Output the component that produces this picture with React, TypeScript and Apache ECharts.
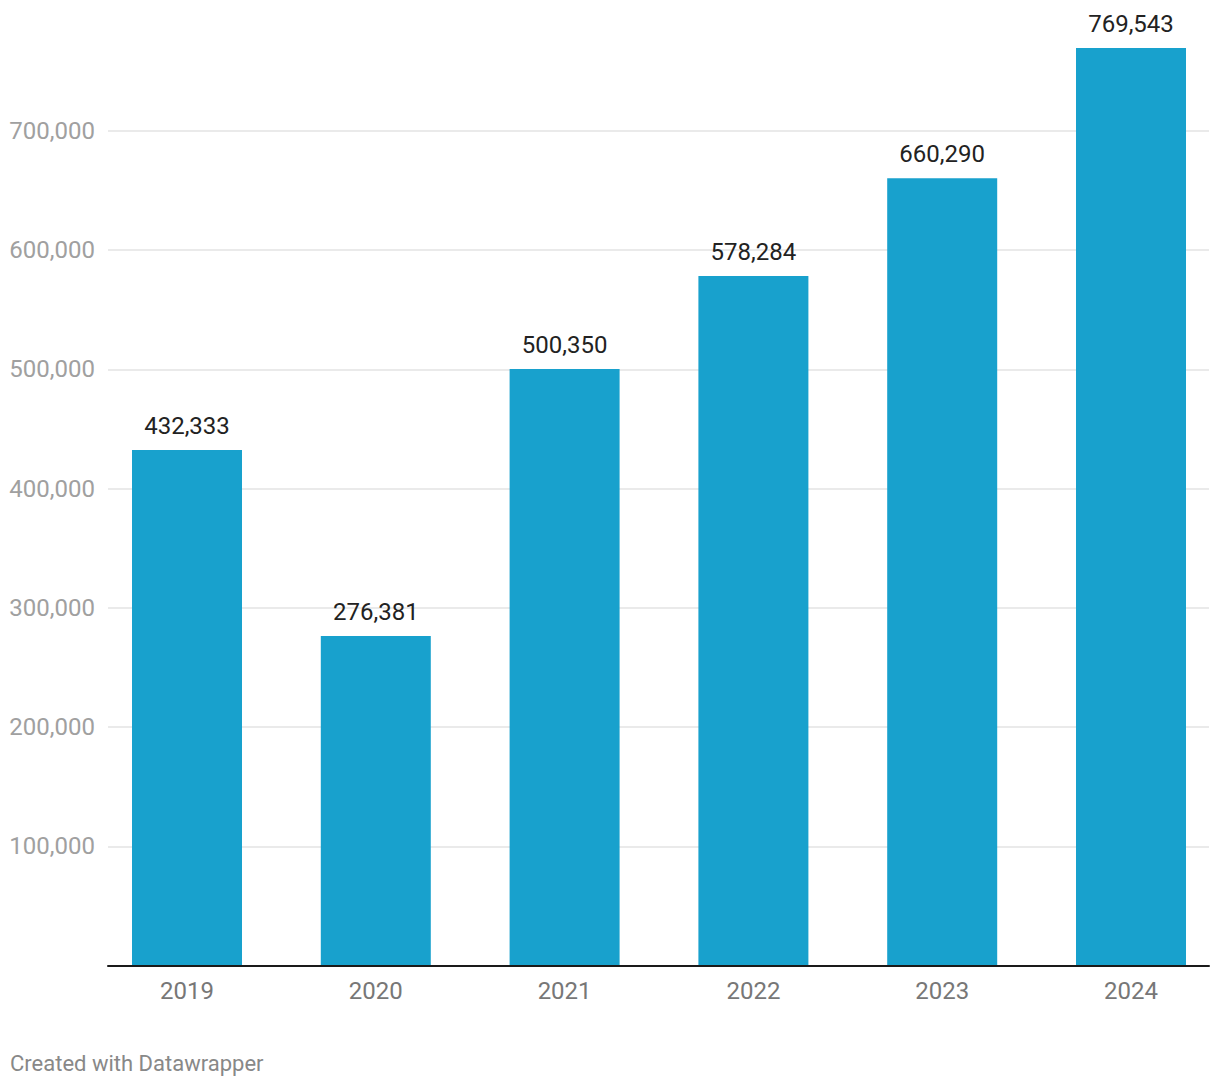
import React, { useEffect, useRef } from "react";
import * as echarts from "echarts";

const years = ["2019", "2020", "2021", "2022", "2023", "2024"];
const values = [432333, 276381, 500350, 578284, 660290, 769543];
const yMax = 800000;
const yStep = 100000;
const footer = "Created with Datawrapper";

const fmt = (v: number) => v.toLocaleString("en-US");
const FONT = "Roboto";

export default function App() {
  const ref = useRef<HTMLDivElement>(null);
  useEffect(() => {
    if (!ref.current) return;
    const chart = echarts.init(ref.current, undefined, { renderer: "svg" });
    const gridColors = ["transparent", "#e3e3e3", "#e3e3e3", "#e3e3e3", "#e3e3e3", "#e3e3e3", "#e3e3e3", "#e3e3e3", "transparent"];
    chart.setOption({
      animation: false,
      backgroundColor: "#ffffff",
      textStyle: { fontFamily: FONT },
      grid: [
        { left: 108, right: 11, top: 11.8, bottom: 122.5 },
        { left: 187, right: 89, top: 11.8, bottom: 122.5 },
      ],
      xAxis: [
        {
          type: "category",
          gridIndex: 0,
          data: years,
          z: 5,
          axisLine: { show: true, lineStyle: { color: "#1a1a1a", width: 2 } },
          axisTick: { show: false },
          axisLabel: { show: false },
          splitLine: { show: false },
        },
        {
          type: "category",
          gridIndex: 1,
          data: years,
          boundaryGap: false,
          axisLine: { show: false },
          axisTick: { show: false },
          axisLabel: {
            show: true,
            color: "#777777",
            fontSize: 24,
            fontFamily: FONT,
            margin: 13,
          },
          splitLine: { show: false },
        },
      ],
      yAxis: [
        {
          type: "value",
          gridIndex: 0,
          min: 0,
          max: yMax,
          interval: yStep,
          axisLine: { show: false },
          axisTick: { show: false },
          axisLabel: {
            show: true,
            showMinLabel: false,
            showMaxLabel: false,
            color: "#a0a0a0",
            fontSize: 24,
            fontFamily: FONT,
            margin: 13,
            formatter: (v: number) => fmt(v),
          },
          splitLine: { show: true, lineStyle: { color: gridColors, width: 1.5 } },
        },
        {
          type: "value",
          gridIndex: 1,
          min: 0,
          max: yMax,
          interval: yStep,
          axisLine: { show: false },
          axisTick: { show: false },
          axisLabel: { show: false },
          splitLine: { show: false },
        },
      ],
      series: [
        {
          type: "bar",
          xAxisIndex: 1,
          yAxisIndex: 1,
          data: values,
          barWidth: 110,
          clip: false,
          itemStyle: { color: "#18a1cd" },
          label: {
            show: true,
            position: "top",
            distance: 12,
            color: "#222222",
            fontSize: 24,
            fontFamily: FONT,
            formatter: (p: any) => fmt(p.value),
          },
        },
      ],
      graphic: [
        {
          type: "text",
          left: 10,
          top: 1052,
          style: {
            text: footer,
            fill: "#888888",
            fontSize: 22,
            fontFamily: FONT,
          },
        },
      ],
    });
    return () => chart.dispose();
  }, []);
  return <div ref={ref} style={{ width: 1220, height: 1088, position: "absolute", left: 0, top: 0 }} />;
}
